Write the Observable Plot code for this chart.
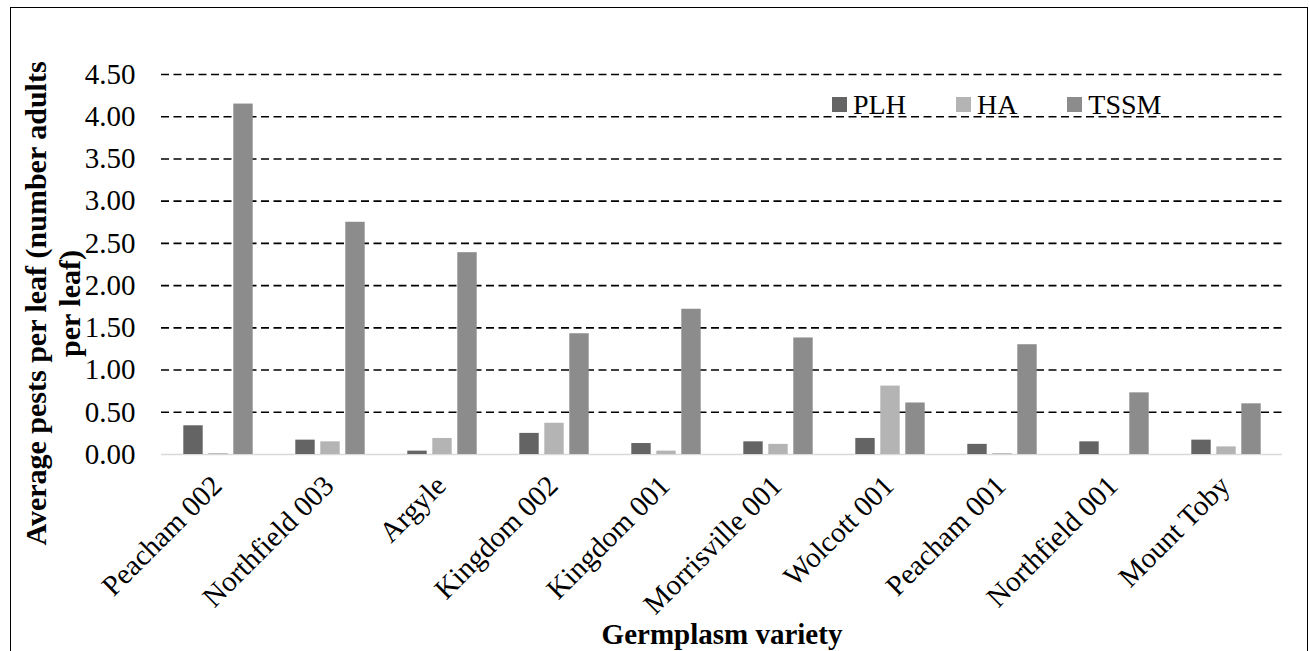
<!DOCTYPE html>
<html>
<head>
<meta charset="utf-8">
<script src="https://cdn.jsdelivr.net/npm/d3@7"></script>
<script src="https://cdn.jsdelivr.net/npm/@observablehq/plot@0.6"></script>
<style>
  html, body { margin: 0; padding: 0; background: #fff; }
  #wrap { position: relative; width: 1309px; height: 651px; overflow: hidden; background: #fff; }
  #chart { position: absolute; left: 0; top: 0; }
  #legend { position: absolute; left: 832px; top: 88px; width: 470px; white-space: nowrap; }
  #legend, #legend * { font-family: "Liberation Serif", "Times New Roman", serif !important; font-size: 28px !important; color: #000; }
  #legend span { margin-right: 50px !important; }
  #legend span > svg { margin-right: 6px !important; }
  #border { position: absolute; left: 9.5px; top: 6.5px; width: 1298px; height: 700px; border: 1.5px solid #000; box-sizing: border-box; pointer-events: none; }
</style>
</head>
<body>
<div id="wrap">
  <div id="chart"></div>
  <div id="legend"></div>
  <div id="border"></div>
</div>
<script>
// ---- data ----
const categories = ["Peacham 002", "Northfield 003", "Argyle", "Kingdom 002", "Kingdom 001",
                    "Morrisville 001", "Wolcott 001", "Peacham 001", "Northfield 001", "Mount Toby"];
const seriesNames = ["PLH", "HA", "TSSM"];
const plhValues  = [0.34, 0.17, 0.04, 0.25, 0.13, 0.15, 0.19, 0.12, 0.15, 0.17];
const haValues   = [0.01, 0.15, 0.19, 0.37, 0.04, 0.12, 0.81, 0.01, 0.00, 0.09];
const tssmValues = [4.15, 2.75, 2.39, 1.43, 1.72, 1.38, 0.61, 1.30, 0.73, 0.60];
const yTicks = [0, 0.5, 1, 1.5, 2, 2.5, 3, 3.5, 4, 4.5];
const yTitle = "Average pests per leaf (number adults\nper leaf)";
const xTitle = "Germplasm variety";
const seriesColors = ["#646464", "#b4b4b4", "#8c8c8c"];

// ---- tidy table built from the arrays ----
const seriesValues = [plhValues, haValues, tssmValues];
const rows = categories.flatMap((c, i) =>
  seriesNames.map((s, j) => ({variety: c, series: s, value: seriesValues[j][i]})));

const font = '"Liberation Serif", "Times New Roman", serif';
const barStep = 25;      // spacing between bars within a group
const barInset = 46.3;   // leaves ~19.5px wide bars in a 112px band

const barMarks = seriesNames.map((s, j) =>
  Plot.barY(rows.filter(d => d.series === s), {
    x: "variety", y: "value", fill: "series",
    dx: (j - 1) * barStep, insetLeft: barInset, insetRight: barInset
  }));

const chart = Plot.plot({
  width: 1309,
  height: 651,
  marginLeft: 161,
  marginRight: 27,
  marginTop: 74,
  marginBottom: 197,
  style: {fontFamily: font, fontSize: "28px", background: "transparent", color: "#000", overflow: "visible"},
  x: {domain: categories, padding: 0, axis: null},
  y: {domain: [0, 4.5], label: null},
  color: {domain: seriesNames, range: seriesColors},
  marks: [
    Plot.ruleY(yTicks.filter(d => d > 0), {stroke: "#000", strokeWidth: 1.6, strokeDasharray: "8,4.5"}),
    Plot.ruleY([0], {stroke: "#d9d9d9", strokeWidth: 1.5}),
    ...barMarks,
    Plot.axisY({ticks: yTicks, tickFormat: d3.format(".2f"), tickSize: 0, tickPadding: 26,
                fontSize: 29, label: null}),
    Plot.text(categories, {x: d => d, frameAnchor: "bottom", rotate: -45, textAnchor: "end",
                           lineAnchor: "bottom", dx: 5, dy: 33, fontSize: 29, fill: "#000"}),
    Plot.text([xTitle], {frameAnchor: "bottom", textAnchor: "middle", lineAnchor: "bottom",
                         dy: 189, fontSize: 29, fontWeight: "bold", fill: "#000"}),
    Plot.text([yTitle], {frameAnchor: "left", rotate: -90, textAnchor: "middle", lineAnchor: "middle",
                         lineHeight: 1.12, dx: -109, dy: 39, fontSize: 30, fontWeight: "bold", fill: "#000"})
  ]
});
document.getElementById("chart").appendChild(chart);

const legend = Plot.legend({
  color: {domain: seriesNames, range: seriesColors},
  legend: "swatches",
  swatchSize: 15,
  style: {fontFamily: font, fontSize: "28px", color: "#000", margin: "0"}
});
document.getElementById("legend").appendChild(legend);
</script>
</body>
</html>
